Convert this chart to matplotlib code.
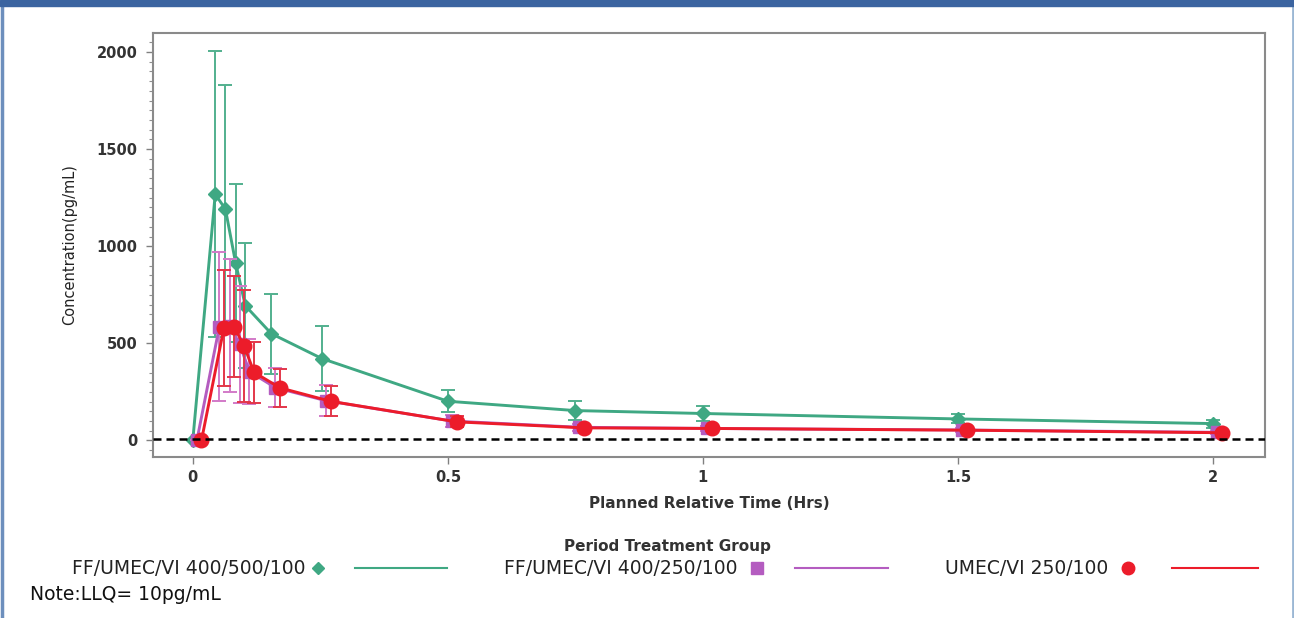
import numpy as np
import matplotlib.pyplot as plt
from matplotlib.lines import Line2D
from matplotlib.patches import Rectangle
from matplotlib.ticker import MultipleLocator

plt.rcParams['font.family'] = ['DejaVu Sans']

# planned times (hrs)
time = [0, 0.044, 0.064, 0.084, 0.103, 0.154, 0.253, 0.5, 0.75, 1.0, 1.5, 2.0]

# FF/UMEC/VI 400/500/100
green_mean = [0, 1268, 1191, 914, 694, 550, 422, 202, 154, 139, 111, 87]
green_sd = [0, 737, 640, 407, 322, 206, 169, 57, 48, 41, 23, 21]

# FF/UMEC/VI 400/250/100
purple_mean = [0, 585, 592, 495, 355, 272, 205, 100, 68, 62, 54, 42]
purple_sd = [0, 383, 344, 300, 165, 100, 80, 30, 18, 14, 11, 9]

# UMEC/VI 250/100
red_mean = [0, 579, 585, 485, 351, 271, 202, 96, 65, 62, 53, 40]
red_sd = [0, 300, 260, 288, 157, 99, 78, 28, 16, 12, 10, 8]

labels = ['FF/UMEC/VI 400/500/100', 'FF/UMEC/VI 400/250/100', 'UMEC/VI 250/100']
llq = 10

green = '#3fa883'
purple = '#b45cc0'
red = '#ec1c2a'

W, H = 1294, 618
fig = plt.figure(figsize=(W / 100, H / 100), dpi=100)
ax = fig.add_axes([153 / W, 1 - 457 / H, (1265 - 153) / W, (457 - 33) / H])

t = np.array(time)
series = [
    (green_mean, green_sd, 0.0, green, '#52b08e', 'D', 7.5),
    (purple_mean, purple_sd, 0.008, purple, '#d27ac8', 's', 8.5),
    (red_mean, red_sd, 0.017, red, '#e3374a', 'o', 10.5),
]
for k, (m, sd, dx, c, ec, mk, ms) in enumerate(series):
    ax.errorbar(t + dx, m, yerr=sd, fmt='none', ecolor=ec, elinewidth=1.4,
                capsize=5, capthick=1.4, zorder=2 + k)
    ax.plot(t + dx, m, color=c, lw=2.1, marker=mk, ms=ms, mec=c, mfc=c,
            zorder=3 + k)

ax.axhline(llq, color='black', lw=1.8, linestyle=(0, (3.2, 2)), zorder=10)

ax.set_xlim(-0.078, 2.102)
ax.set_ylim(-85, 2098)
ax.set_xticks([0, 0.5, 1, 1.5, 2])
ax.set_xticklabels(['0', '0.5', '1', '1.5', '2'])
ax.set_yticks([0, 500, 1000, 1500, 2000])
ax.yaxis.set_minor_locator(MultipleLocator(50))
ax.tick_params(axis='both', which='major', length=5, width=1, color='#808080',
               labelsize=10.5, labelcolor='#333333')
ax.tick_params(axis='x', pad=4)
ax.tick_params(axis='y', pad=6)
ax.tick_params(axis='y', which='minor', length=3, width=0.8, color='#909090')
for lab in ax.get_xticklabels() + ax.get_yticklabels():
    lab.set_fontweight('bold')
for s in ax.spines.values():
    s.set_color('#8a8a8a')
    s.set_linewidth(1.5)

ax.set_xlabel('Planned Relative Time (Hrs)', fontsize=11, fontweight='bold',
              color='#333333', labelpad=8)
ax.set_ylabel('Concentration(pg/mL)', fontsize=10.5, color='#222222', labelpad=14)

# legend (SAS style: text, marker, line)
def fx(px):
    return px / W

def fy(py):
    return 1 - py / H

fig.text(fx(667), fy(547), 'Period Treatment Group', ha='center', va='center',
         fontsize=11, fontweight='bold', color='#333333')
entries = [
    (305, 318, 355, 447, green, 'D', 6),
    (737, 757, 795, 888, purple, 's', 8),
    (1108, 1128, 1172, 1258, red, 'o', 9),
]
for lab, (tx, mx, l0, l1, c, mk, ms) in zip(labels, entries):
    fig.text(fx(tx), fy(568), lab, ha='right', va='center', fontsize=13.5,
             color='#222222')
    fig.add_artist(Line2D([fx(mx)], [fy(568)], marker=mk, ms=ms, color=c,
                          lw=0, transform=fig.transFigure))
    fig.add_artist(Line2D([fx(l0), fx(l1)], [fy(568), fy(568)], color=c,
                          lw=1.5, transform=fig.transFigure))

fig.text(fx(30), fy(595), 'Note:LLQ= 10pg/mL', ha='left', va='center',
         fontsize=13.5, color='#111111')

# frame of the screenshot
fig.add_artist(Rectangle((0, fy(6)), 1, 6 / H, transform=fig.transFigure,
                         color='#3b64a0', zorder=20))
fig.add_artist(Line2D([fx(1.5), fx(1.5)], [0, 1], color='#6d8fbd', lw=2.5,
                      transform=fig.transFigure))
fig.add_artist(Line2D([fx(1292.5), fx(1292.5)], [0, 1], color='#9bb7d4', lw=2,
                      transform=fig.transFigure))

plt.savefig('out.png', dpi=100)
